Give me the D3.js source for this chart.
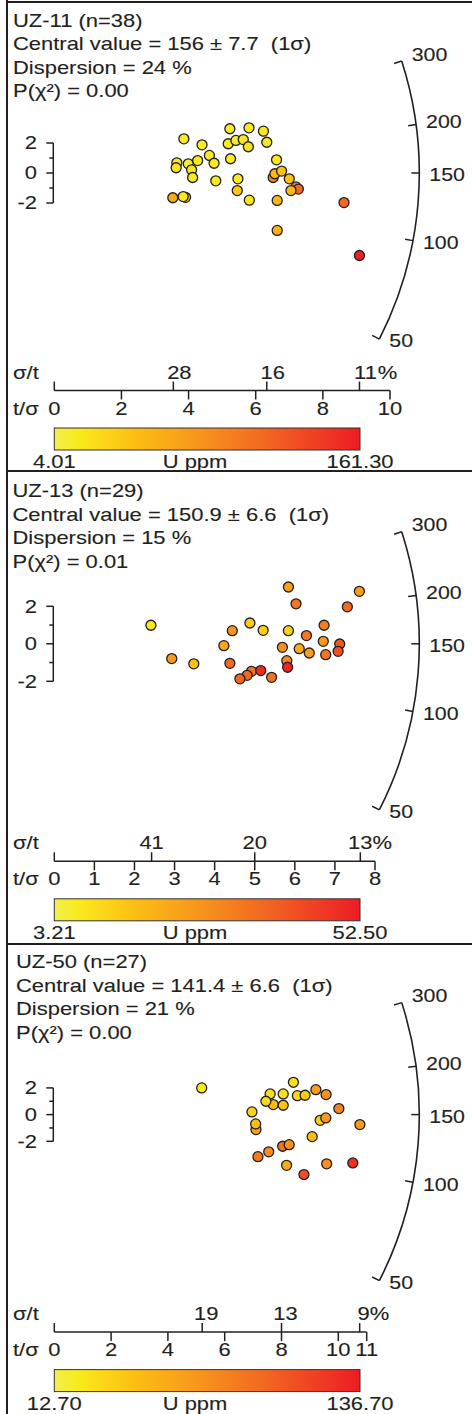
<!DOCTYPE html>
<html>
<head>
<meta charset="utf-8">
<script src="https://cdn.jsdelivr.net/npm/d3@7"></script>
<style>
  body { margin: 0; background: #fff; }
  svg { display: block; }
  text { font-family: "Liberation Sans", Arial, sans-serif; fill: #231f20; stroke: #231f20; stroke-width: 0.12px; }
</style>
</head>
<body>
<svg id="chart" width="472" height="1414"></svg>
<script>
// ---- sample summaries ----
const samples = ["UZ-11", "UZ-13", "UZ-50"];
const grainCounts = [38, 29, 27];
const centralValues = ["156", "150.9", "141.4"];
const centralErrors = ["7.7", "6.6", "6.6"];
const dispersions = [24, 15, 21];
const pChi2 = ["0.00", "0.01", "0.00"];
const uRanges = [[4.01, 161.30], [3.21, 52.50], [12.70, 136.70]];

// ---- axis ticks ----
const precisionMax = [10, 8, 11];
const precisionTicks = [[0, 2, 4, 6, 8, 10], [0, 1, 2, 3, 4, 5, 6, 7, 8], [0, 2, 4, 6, 8, 10, 11]];
const relErrorTicks = [[28.2, 15.8, 11.0], [41.2, 20.0, 13.1], [19.2, 12.5, 9.3]]; // σ/t in %
const ageTicks = [50, 100, 150, 200, 300];
const ageReference = 150;
const zTicks = [-2, -1, 0, 1, 2];

// ---- single grains: precision (t/σ), standardised estimate, U (ppm) ----
const uz11Precision = [3.86, 5.23, 5.80, 6.23, 4.40, 5.18, 5.41, 5.63, 5.78, 6.33, 4.62, 4.76, 5.25, 6.62, 3.65, 3.63, 3.99, 4.27, 4.09, 4.12, 4.81, 5.47, 5.45, 3.53, 3.91, 3.84, 5.81, 6.64, 6.64, 6.52, 6.57, 6.77, 7.00, 7.20, 7.27, 7.05, 8.63, 9.09];
const uz11Std = [2.28, 2.95, 3.01, 2.79, 1.88, 1.95, 2.17, 2.23, 1.75, 2.05, 1.17, 0.65, 0.95, 0.88, 0.68, 0.35, 0.61, 0.83, 0.21, -0.30, -0.52, -0.39, -1.17, -1.65, -1.62, -1.57, -1.81, -1.83, -3.83, -0.30, -0.05, 0.13, -0.39, -0.93, -1.07, -1.17, -1.97, -5.50];
const uz11U = [14, 12, 16, 18, 13, 15, 12, 17, 20, 19, 14, 16, 13, 18, 15, 17, 12, 16, 19, 14, 17, 15, 39, 62, 30, 16, 18, 52, 56, 88, 50, 44, 42, 100, 112, 48, 112, 158];

const uz13Precision = [2.41, 2.93, 3.48, 4.23, 4.44, 4.88, 5.21, 4.38, 4.92, 4.81, 4.63, 5.15, 5.42, 5.84, 6.03, 5.84, 6.29, 5.69, 6.11, 6.36, 5.80, 5.82, 6.73, 6.71, 6.77, 7.12, 7.08, 7.31, 7.61];
const uz13Std = [0.99, -0.79, -1.07, -0.10, 0.70, 1.11, 0.72, -1.04, -1.47, -1.68, -1.87, -1.43, -1.79, 3.03, 2.13, 0.70, 0.44, -0.19, -0.26, -0.49, -0.90, -1.25, 0.99, 0.13, -0.58, -0.01, -0.40, 1.97, 2.80];
const uz13U = [7.1, 25.4, 15.5, 21.9, 26.9, 13.1, 13.1, 36.7, 34.3, 36.7, 37.7, 49.0, 34.8, 23.9, 33.8, 12.1, 33.8, 27.8, 21.0, 24.4, 30.3, 51.0, 31.8, 25.4, 33.8, 40.7, 42.6, 36.7, 24.9];

const uz50Precision = [5.19, 7.71, 7.60, 7.45, 8.06, 8.06, 8.42, 8.56, 8.83, 9.21, 9.57, 10.02, 6.96, 7.10, 7.09, 9.36, 9.56, 10.76, 9.08, 8.04, 8.27, 7.55, 7.17, 8.18, 9.59, 10.51, 8.79];
const uz50Std = [2.00, 0.75, 1.55, 1.00, 1.55, 0.70, 2.42, 1.42, 1.45, 1.87, 1.50, 0.45, 0.20, -1.12, -0.70, -0.43, -0.25, -0.75, -1.65, -2.37, -2.25, -2.79, -3.15, -3.80, -3.69, -3.62, -4.49];
const uz50U = [22.6, 47.4, 27.6, 30.1, 27.6, 43.7, 28.8, 30.1, 37.5, 66.0, 74.7, 82.1, 35.0, 64.8, 45.0, 37.5, 68.5, 68.5, 46.2, 92.0, 74.7, 77.2, 87.1, 57.3, 74.7, 126.8, 111.9];

const grainPrecision = [uz11Precision, uz13Precision, uz50Precision];
const grainStd = [uz11Std, uz13Std, uz50Std];
const grainU = [uz11U, uz13U, uz50U];

// ---- colour ramp for U ----
const rampPositions = [0, 0.08, 0.25, 0.48, 0.7, 1];
const rampColours = ["#f3ee4c", "#f9ea1c", "#fdc113", "#f7941d", "#f26522", "#ed1c24"];

// ---- layout ----
const layout = {
  tops: [0, 470.8, 941.6],
  titleX: [13, 12.5, 16],
  originX: 54.3,
  axisLength: [335.7, 320.7, 312.4],
  zUnit: [15, 18.75, 13.35],
  relLabelShift: [6, 0, 4],
  arcRadius: 365,
  arcSlope: 0.465,
  barRight: 360,
  stretch: 1.22
};

const ink = "#231f20";
const svg = d3.select("#chart");
const defs = svg.append("defs");

function label(sel, x, y, str, anchor, size, baseline) {
  return sel.append("text")
    .attr("xml:space", "preserve")
    .attr("transform", `translate(${x},${y}) scale(${layout.stretch},1)`)
    .attr("text-anchor", anchor || "start")
    .attr("dominant-baseline", baseline || "auto")
    .attr("font-size", size)
    .text(str);
}

// frame and panel separators
svg.append("line").attr("x1", 7).attr("x2", 7).attr("y1", 0).attr("y2", 1414)
  .attr("stroke", ink).attr("stroke-width", 2);
[2, 471, 944].forEach(y => {
  svg.append("line").attr("x1", 6).attr("x2", 472).attr("y1", y).attr("y2", y)
    .attr("stroke", ink).attr("stroke-width", 2);
});

samples.forEach((name, i) => {
  const top = layout.tops[i];
  const g = svg.append("g");
  const x0 = layout.originX;
  const cy = top + 173;
  const axisY = top + 390.5;

  const x = d3.scaleLinear().domain([0, precisionMax[i]]).range([x0, x0 + layout.axisLength[i]]);
  const y = d3.scaleLinear().domain([-1, 1]).range([cy + layout.zUnit[i], cy - layout.zUnit[i]]);
  const [u0, u1] = uRanges[i];
  const colour = d3.scaleLinear()
    .domain(rampPositions.map(p => u0 + p * (u1 - u0)))
    .range(rampColours)
    .interpolate(d3.interpolateRgb);
  // direction of an age on the arc, from the reference age
  const theta = t => Math.atan(layout.arcSlope * Math.log(t / ageReference));

  // header text
  const titleY = top + 26.5;
  const lines = [
    `${name} (n=${grainCounts[i]})`,
    `Central value = ${centralValues[i]} ± ${centralErrors[i]}\u00a0\u00a0(1σ)`,
    `Dispersion = ${dispersions[i]} %`,
    `P(χ²) = ${pChi2[i]}`
  ];
  lines.forEach((s, k) => label(g, layout.titleX[i], titleY + k * 23.5, s, "start", 18));

  // standardised estimate bar
  g.append("line").attr("x1", x0 - 1).attr("x2", x0 - 1)
    .attr("y1", y(-2)).attr("y2", y(2)).attr("stroke", ink).attr("stroke-width", 1.5);
  zTicks.forEach(v => {
    const major = v % 2 === 0;
    g.append("line").attr("x1", x0 - 1 - (major ? 7 : 4)).attr("x2", x0 - 1)
      .attr("y1", y(v)).attr("y2", y(v)).attr("stroke", ink).attr("stroke-width", 1.5);
    if (major) label(g, 37, y(v), String(v), "end", 18, "central");
  });

  // age arc
  const R = layout.arcRadius;
  const arcPath = d3.path();
  arcPath.arc(x0, cy, R, -theta(d3.max(ageTicks)), -theta(d3.min(ageTicks)), false);
  g.append("path").attr("d", arcPath.toString()).attr("fill", "none")
    .attr("stroke", ink).attr("stroke-width", 1.6);
  ageTicks.forEach(t => {
    const a = theta(t);
    const c = Math.cos(a), s = Math.sin(a);
    const tx = x0 + R * c, ty = cy - R * s;
    g.append("line")
      .attr("x1", x0 + (R - 8) * c).attr("y1", cy - (R - 8) * s)
      .attr("x2", tx).attr("y2", ty)
      .attr("stroke", ink).attr("stroke-width", 1.5);
    const dy = a > 0 ? -22 * s : 2;
    label(g, tx + 10, ty + dy, String(t), "start", 17.5, "central");
  });

  // precision axis
  g.append("line").attr("x1", x(0)).attr("x2", x(precisionMax[i]))
    .attr("y1", axisY).attr("y2", axisY).attr("stroke", ink).attr("stroke-width", 1.5);
  precisionTicks[i].forEach(v => {
    if (v > 0) {
      g.append("line").attr("x1", x(v)).attr("x2", x(v))
        .attr("y1", axisY).attr("y2", axisY + 9).attr("stroke", ink).attr("stroke-width", 1.5);
    }
    label(g, x(v), axisY + 24, String(v), "middle", 18);
  });
  g.append("line").attr("x1", x(0)).attr("x2", x(0))
    .attr("y1", axisY).attr("y2", axisY - 9).attr("stroke", ink).attr("stroke-width", 1.5);
  const rel = relErrorTicks[i];
  rel.forEach((p, k) => {
    const xv = x(100 / p);
    g.append("line").attr("x1", xv).attr("x2", xv)
      .attr("y1", axisY).attr("y2", axisY - 9).attr("stroke", ink).attr("stroke-width", 1.5);
    const txt = String(Math.round(p));
    const cx = xv + layout.relLabelShift[i];
    label(g, cx, axisY - 12, txt, "middle", 18);
    if (k === rel.length - 1) label(g, cx + txt.length * 10 * layout.stretch / 2, axisY - 12, "%", "start", 18);
  });
  label(g, 13, axisY - 12, "σ/t", "start", 18);
  label(g, 13, axisY + 24, "t/σ", "start", 18);

  // grains
  const px = grainPrecision[i], pz = grainStd[i], pu = grainU[i];
  const grains = px.map((v, k) => ({ p: v, z: pz[k], u: pu[k] }));
  g.append("g").selectAll("circle").data(grains).join("circle")
    .attr("cx", d => x(d.p))
    .attr("cy", d => y(d.z))
    .attr("r", 5)
    .attr("fill", d => colour(d.u))
    .attr("stroke", ink)
    .attr("stroke-width", 1.3);

  // U colour bar
  const gradId = `ramp${i}`;
  const grad = defs.append("linearGradient").attr("id", gradId)
    .attr("x1", "0%").attr("x2", "100%").attr("y1", "0%").attr("y2", "0%");
  rampPositions.forEach((p, k) => {
    grad.append("stop").attr("offset", `${p * 100}%`).attr("stop-color", rampColours[k]);
  });
  const barTop = top + 428;
  g.append("rect").attr("x", x0).attr("y", barTop)
    .attr("width", layout.barRight - x0).attr("height", 22)
    .attr("fill", `url(#${gradId})`).attr("stroke", "#333").attr("stroke-width", 1);
  const barLabelY = top + 468;
  label(g, x0, barLabelY, u0.toFixed(2), "middle", 18);
  label(g, 195, barLabelY, "U ppm", "middle", 18);
  label(g, layout.barRight, barLabelY, u1.toFixed(2), "middle", 18);
});
</script>
</body>
</html>
